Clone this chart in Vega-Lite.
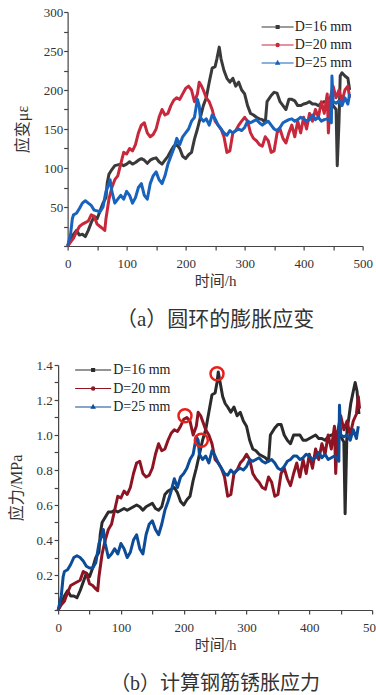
{
  "$schema": "https://vega.github.io/schema/vega-lite/v6.json",
  "background": "white",
  "padding": {"left": 8, "top": 6, "right": 0, "bottom": 0},
  "center": true,
  "spacing": 29,
  "config": {
    "view": {"stroke": null},
    "axis": {
      "domainColor": "#444", "domainWidth": 1.2, "tickColor": "#444", "tickWidth": 1.2, "tickSize": 4,
      "grid": false, "labelFont": "Times New Roman, Liberation Serif, serif", "labelFontSize": 13, "labelColor": "#333",
      "labelOverlap": false, "labelFlush": false,
      "titleFont": "Times New Roman, Liberation Serif, Noto Sans CJK SC, serif", "titleFontSize": 16, "titleFontWeight": "normal", "titleColor": "#333"
    },
    "title": {"font": "Times New Roman, Liberation Serif, Noto Sans CJK SC, serif", "fontSize": 20, "fontWeight": "normal", "color": "#333"}
  },
  "resolve": {"scale": {"x": "independent", "y": "independent", "color": "independent"}, "legend": {"color": "independent"}},
  "datasets": {
    "a16": [{"t":0,"v":0},{"t":5,"v":8},{"t":10,"v":15},{"t":15,"v":20},{"t":20,"v":14},{"t":25,"v":15},{"t":30,"v":12},{"t":35,"v":20},{"t":40,"v":30},{"t":45,"v":38},{"t":50,"v":35},{"t":55,"v":45},{"t":60,"v":55},{"t":65,"v":62},{"t":67,"v":80},{"t":70,"v":92},{"t":75,"v":98},{"t":80,"v":103},{"t":85,"v":104},{"t":90,"v":105},{"t":95,"v":103},{"t":100,"v":105},{"t":105,"v":108},{"t":110,"v":105},{"t":115,"v":107},{"t":120,"v":110},{"t":125,"v":112},{"t":130,"v":110},{"t":135,"v":106},{"t":140,"v":110},{"t":145,"v":112},{"t":150,"v":113},{"t":155,"v":108},{"t":160,"v":105},{"t":165,"v":110},{"t":170,"v":115},{"t":175,"v":122},{"t":180,"v":128},{"t":185,"v":130},{"t":190,"v":125},{"t":195,"v":115},{"t":200,"v":112},{"t":205,"v":117},{"t":210,"v":120},{"t":215,"v":137},{"t":220,"v":150},{"t":225,"v":165},{"t":230,"v":180},{"t":235,"v":190},{"t":240,"v":210},{"t":245,"v":228},{"t":250,"v":230},{"t":253,"v":240},{"t":257,"v":255},{"t":260,"v":240},{"t":265,"v":225},{"t":270,"v":215},{"t":275,"v":210},{"t":280,"v":215},{"t":285,"v":205},{"t":290,"v":210},{"t":295,"v":200},{"t":300,"v":195},{"t":305,"v":180},{"t":310,"v":170},{"t":315,"v":168},{"t":320,"v":165},{"t":325,"v":163},{"t":330,"v":162},{"t":335,"v":158},{"t":338,"v":185},{"t":345,"v":193},{"t":350,"v":197},{"t":355,"v":196},{"t":360,"v":185},{"t":365,"v":180},{"t":370,"v":175},{"t":375,"v":188},{"t":380,"v":188},{"t":385,"v":186},{"t":390,"v":180},{"t":395,"v":180},{"t":400,"v":182},{"t":405,"v":183},{"t":410,"v":185},{"t":415,"v":182},{"t":420,"v":182},{"t":425,"v":180},{"t":430,"v":183},{"t":435,"v":185},{"t":440,"v":185},{"t":445,"v":188},{"t":450,"v":180},{"t":455,"v":175},{"t":457,"v":103},{"t":460,"v":160},{"t":462,"v":218},{"t":465,"v":222},{"t":470,"v":218},{"t":475,"v":215},{"t":478,"v":200}],
    "a20": [{"t":0,"v":0},{"t":5,"v":5},{"t":10,"v":10},{"t":15,"v":18},{"t":20,"v":25},{"t":25,"v":28},{"t":30,"v":30},{"t":35,"v":32},{"t":40,"v":40},{"t":45,"v":38},{"t":50,"v":28},{"t":55,"v":25},{"t":60,"v":22},{"t":63,"v":20},{"t":65,"v":35},{"t":70,"v":60},{"t":75,"v":75},{"t":80,"v":85},{"t":85,"v":90},{"t":90,"v":105},{"t":95,"v":120},{"t":100,"v":118},{"t":105,"v":125},{"t":110,"v":122},{"t":115,"v":130},{"t":120,"v":145},{"t":125,"v":155},{"t":130,"v":158},{"t":135,"v":145},{"t":140,"v":140},{"t":145,"v":143},{"t":150,"v":150},{"t":155,"v":165},{"t":160,"v":175},{"t":165,"v":168},{"t":170,"v":170},{"t":175,"v":180},{"t":180,"v":187},{"t":185,"v":190},{"t":190,"v":188},{"t":195,"v":195},{"t":200,"v":202},{"t":205,"v":205},{"t":210,"v":200},{"t":215,"v":185},{"t":220,"v":195},{"t":223,"v":210},{"t":227,"v":205},{"t":230,"v":200},{"t":235,"v":190},{"t":240,"v":185},{"t":245,"v":175},{"t":250,"v":160},{"t":255,"v":155},{"t":260,"v":150},{"t":265,"v":140},{"t":270,"v":120},{"t":275,"v":122},{"t":280,"v":145},{"t":285,"v":148},{"t":290,"v":155},{"t":295,"v":160},{"t":300,"v":165},{"t":305,"v":160},{"t":310,"v":145},{"t":315,"v":138},{"t":320,"v":135},{"t":325,"v":130},{"t":330,"v":128},{"t":335,"v":140},{"t":340,"v":135},{"t":345,"v":120},{"t":350,"v":122},{"t":355,"v":145},{"t":360,"v":150},{"t":365,"v":138},{"t":370,"v":132},{"t":375,"v":145},{"t":380,"v":155},{"t":385,"v":140},{"t":390,"v":160},{"t":395,"v":145},{"t":400,"v":165},{"t":405,"v":150},{"t":410,"v":170},{"t":415,"v":160},{"t":420,"v":175},{"t":425,"v":165},{"t":430,"v":185},{"t":435,"v":170},{"t":440,"v":195},{"t":442,"v":145},{"t":445,"v":190},{"t":450,"v":205},{"t":455,"v":190},{"t":460,"v":200},{"t":465,"v":185},{"t":470,"v":200},{"t":475,"v":205},{"t":478,"v":190}],
    "a25": [{"t":0,"v":0},{"t":5,"v":15},{"t":8,"v":35},{"t":10,"v":40},{"t":15,"v":42},{"t":20,"v":48},{"t":25,"v":55},{"t":30,"v":58},{"t":35,"v":55},{"t":40,"v":52},{"t":45,"v":46},{"t":50,"v":45},{"t":55,"v":44},{"t":60,"v":50},{"t":65,"v":70},{"t":70,"v":80},{"t":72,"v":85},{"t":75,"v":70},{"t":80,"v":55},{"t":85,"v":60},{"t":90,"v":65},{"t":95,"v":60},{"t":100,"v":70},{"t":105,"v":65},{"t":110,"v":55},{"t":115,"v":62},{"t":120,"v":75},{"t":125,"v":80},{"t":130,"v":65},{"t":135,"v":60},{"t":140,"v":80},{"t":145,"v":90},{"t":150,"v":95},{"t":155,"v":85},{"t":160,"v":80},{"t":165,"v":90},{"t":170,"v":105},{"t":175,"v":115},{"t":180,"v":125},{"t":185,"v":138},{"t":190,"v":130},{"t":195,"v":140},{"t":200,"v":145},{"t":205,"v":150},{"t":210,"v":160},{"t":215,"v":165},{"t":220,"v":188},{"t":223,"v":180},{"t":225,"v":165},{"t":230,"v":160},{"t":235,"v":163},{"t":240,"v":155},{"t":245,"v":168},{"t":250,"v":163},{"t":255,"v":155},{"t":260,"v":150},{"t":265,"v":145},{"t":270,"v":142},{"t":275,"v":148},{"t":280,"v":145},{"t":285,"v":148},{"t":290,"v":150},{"t":295,"v":148},{"t":300,"v":152},{"t":305,"v":160},{"t":310,"v":158},{"t":315,"v":160},{"t":320,"v":162},{"t":325,"v":158},{"t":330,"v":155},{"t":335,"v":158},{"t":340,"v":160},{"t":345,"v":155},{"t":350,"v":150},{"t":355,"v":148},{"t":360,"v":152},{"t":365,"v":158},{"t":370,"v":160},{"t":375,"v":162},{"t":380,"v":163},{"t":385,"v":160},{"t":390,"v":162},{"t":395,"v":165},{"t":400,"v":163},{"t":405,"v":160},{"t":410,"v":162},{"t":415,"v":168},{"t":420,"v":162},{"t":425,"v":165},{"t":430,"v":160},{"t":435,"v":162},{"t":440,"v":163},{"t":445,"v":160},{"t":447,"v":158},{"t":448,"v":218},{"t":450,"v":185},{"t":455,"v":183},{"t":460,"v":186},{"t":465,"v":180},{"t":470,"v":190},{"t":475,"v":182},{"t":478,"v":195}],
    "b16": [{"t":0,"v":0},{"t":5,"v":0.04},{"t":10,"v":0.08},{"t":15,"v":0.11},{"t":20,"v":0.08},{"t":25,"v":0.08},{"t":30,"v":0.07},{"t":35,"v":0.11},{"t":40,"v":0.16},{"t":45,"v":0.21},{"t":50,"v":0.19},{"t":55,"v":0.24},{"t":60,"v":0.3},{"t":65,"v":0.33},{"t":67,"v":0.43},{"t":70,"v":0.5},{"t":75,"v":0.53},{"t":80,"v":0.56},{"t":85,"v":0.56},{"t":90,"v":0.57},{"t":95,"v":0.56},{"t":100,"v":0.57},{"t":105,"v":0.58},{"t":110,"v":0.57},{"t":115,"v":0.58},{"t":120,"v":0.59},{"t":125,"v":0.6},{"t":130,"v":0.59},{"t":135,"v":0.57},{"t":140,"v":0.59},{"t":145,"v":0.6},{"t":150,"v":0.61},{"t":155,"v":0.58},{"t":160,"v":0.57},{"t":165,"v":0.59},{"t":170,"v":0.66},{"t":175,"v":0.68},{"t":180,"v":0.69},{"t":185,"v":0.7},{"t":190,"v":0.67},{"t":195,"v":0.62},{"t":200,"v":0.6},{"t":205,"v":0.63},{"t":210,"v":0.65},{"t":215,"v":0.74},{"t":220,"v":0.81},{"t":225,"v":0.89},{"t":230,"v":0.97},{"t":235,"v":1.03},{"t":240,"v":1.13},{"t":245,"v":1.23},{"t":250,"v":1.24},{"t":253,"v":1.3},{"t":255,"v":1.36},{"t":258,"v":1.3},{"t":262,"v":1.22},{"t":266,"v":1.18},{"t":270,"v":1.16},{"t":275,"v":1.13},{"t":280,"v":1.16},{"t":285,"v":1.11},{"t":290,"v":1.13},{"t":295,"v":1.08},{"t":300,"v":1.05},{"t":305,"v":0.97},{"t":310,"v":0.92},{"t":315,"v":0.91},{"t":320,"v":0.89},{"t":325,"v":0.88},{"t":330,"v":0.87},{"t":335,"v":0.85},{"t":338,"v":1.0},{"t":345,"v":1.04},{"t":350,"v":1.06},{"t":355,"v":1.06},{"t":360,"v":1.0},{"t":365,"v":0.97},{"t":370,"v":0.95},{"t":375,"v":1.0},{"t":380,"v":1.0},{"t":385,"v":1.0},{"t":390,"v":0.97},{"t":395,"v":0.97},{"t":400,"v":0.98},{"t":405,"v":0.99},{"t":410,"v":1.0},{"t":415,"v":0.98},{"t":420,"v":0.98},{"t":425,"v":0.97},{"t":430,"v":0.99},{"t":435,"v":1.0},{"t":440,"v":1.0},{"t":445,"v":1.02},{"t":450,"v":0.99},{"t":455,"v":0.96},{"t":457,"v":0.55},{"t":460,"v":1.03},{"t":463,"v":1.1},{"t":466,"v":1.18},{"t":470,"v":1.25},{"t":473,"v":1.3},{"t":476,"v":1.25},{"t":479,"v":1.12}],
    "b20": [{"t":0,"v":0},{"t":5,"v":0.03},{"t":10,"v":0.05},{"t":15,"v":0.1},{"t":20,"v":0.14},{"t":25,"v":0.15},{"t":30,"v":0.16},{"t":35,"v":0.17},{"t":40,"v":0.22},{"t":45,"v":0.21},{"t":50,"v":0.15},{"t":55,"v":0.14},{"t":60,"v":0.12},{"t":63,"v":0.11},{"t":65,"v":0.19},{"t":70,"v":0.32},{"t":75,"v":0.4},{"t":80,"v":0.46},{"t":85,"v":0.49},{"t":90,"v":0.57},{"t":95,"v":0.65},{"t":100,"v":0.64},{"t":105,"v":0.68},{"t":110,"v":0.66},{"t":115,"v":0.7},{"t":120,"v":0.78},{"t":125,"v":0.84},{"t":130,"v":0.85},{"t":135,"v":0.78},{"t":140,"v":0.76},{"t":145,"v":0.77},{"t":150,"v":0.81},{"t":155,"v":0.89},{"t":160,"v":0.95},{"t":165,"v":0.91},{"t":170,"v":0.92},{"t":175,"v":0.97},{"t":180,"v":1.01},{"t":185,"v":1.03},{"t":190,"v":1.02},{"t":195,"v":1.05},{"t":200,"v":1.09},{"t":205,"v":1.1},{"t":210,"v":1.08},{"t":215,"v":1.0},{"t":220,"v":1.05},{"t":223,"v":1.13},{"t":227,"v":1.11},{"t":230,"v":1.08},{"t":235,"v":1.03},{"t":240,"v":1.0},{"t":245,"v":0.95},{"t":250,"v":0.86},{"t":255,"v":0.84},{"t":260,"v":0.81},{"t":265,"v":0.76},{"t":270,"v":0.65},{"t":275,"v":0.66},{"t":280,"v":0.78},{"t":285,"v":0.8},{"t":290,"v":0.84},{"t":295,"v":0.86},{"t":300,"v":0.89},{"t":305,"v":0.86},{"t":310,"v":0.78},{"t":315,"v":0.75},{"t":320,"v":0.73},{"t":325,"v":0.7},{"t":330,"v":0.69},{"t":335,"v":0.76},{"t":340,"v":0.73},{"t":345,"v":0.65},{"t":350,"v":0.66},{"t":355,"v":0.78},{"t":360,"v":0.81},{"t":365,"v":0.75},{"t":370,"v":0.71},{"t":375,"v":0.78},{"t":380,"v":0.84},{"t":385,"v":0.76},{"t":390,"v":0.86},{"t":395,"v":0.78},{"t":400,"v":0.89},{"t":405,"v":0.81},{"t":410,"v":0.92},{"t":415,"v":0.86},{"t":420,"v":0.95},{"t":425,"v":0.89},{"t":430,"v":1.0},{"t":435,"v":0.92},{"t":440,"v":1.05},{"t":442,"v":0.78},{"t":445,"v":1.02},{"t":450,"v":1.11},{"t":455,"v":1.03},{"t":460,"v":1.08},{"t":465,"v":1.0},{"t":470,"v":1.08},{"t":475,"v":1.12},{"t":478,"v":1.22},{"t":480,"v":1.15}],
    "b25": [{"t":0,"v":0},{"t":5,"v":0.08},{"t":8,"v":0.19},{"t":10,"v":0.22},{"t":15,"v":0.23},{"t":20,"v":0.26},{"t":25,"v":0.3},{"t":30,"v":0.31},{"t":35,"v":0.3},{"t":40,"v":0.28},{"t":45,"v":0.25},{"t":50,"v":0.24},{"t":55,"v":0.24},{"t":60,"v":0.27},{"t":65,"v":0.38},{"t":70,"v":0.43},{"t":72,"v":0.46},{"t":75,"v":0.38},{"t":80,"v":0.3},{"t":85,"v":0.32},{"t":90,"v":0.35},{"t":95,"v":0.32},{"t":100,"v":0.38},{"t":105,"v":0.35},{"t":110,"v":0.3},{"t":115,"v":0.33},{"t":120,"v":0.4},{"t":125,"v":0.43},{"t":130,"v":0.35},{"t":135,"v":0.32},{"t":140,"v":0.43},{"t":145,"v":0.49},{"t":150,"v":0.51},{"t":155,"v":0.46},{"t":160,"v":0.43},{"t":165,"v":0.49},{"t":170,"v":0.57},{"t":175,"v":0.62},{"t":180,"v":0.68},{"t":185,"v":0.75},{"t":190,"v":0.7},{"t":195,"v":0.76},{"t":200,"v":0.78},{"t":205,"v":0.81},{"t":210,"v":0.86},{"t":215,"v":0.89},{"t":220,"v":0.99},{"t":223,"v":0.97},{"t":225,"v":0.89},{"t":230,"v":0.86},{"t":235,"v":0.88},{"t":240,"v":0.84},{"t":245,"v":0.91},{"t":250,"v":0.88},{"t":255,"v":0.84},{"t":260,"v":0.81},{"t":265,"v":0.78},{"t":270,"v":0.77},{"t":275,"v":0.8},{"t":280,"v":0.78},{"t":285,"v":0.8},{"t":290,"v":0.81},{"t":295,"v":0.8},{"t":300,"v":0.82},{"t":305,"v":0.86},{"t":310,"v":0.85},{"t":315,"v":0.86},{"t":320,"v":0.87},{"t":325,"v":0.85},{"t":330,"v":0.84},{"t":335,"v":0.85},{"t":340,"v":0.86},{"t":345,"v":0.84},{"t":350,"v":0.81},{"t":355,"v":0.8},{"t":360,"v":0.82},{"t":365,"v":0.85},{"t":370,"v":0.86},{"t":375,"v":0.88},{"t":380,"v":0.88},{"t":385,"v":0.86},{"t":390,"v":0.87},{"t":395,"v":0.89},{"t":400,"v":0.88},{"t":405,"v":0.86},{"t":410,"v":0.87},{"t":415,"v":0.9},{"t":420,"v":0.87},{"t":425,"v":0.89},{"t":430,"v":0.86},{"t":435,"v":0.87},{"t":440,"v":0.88},{"t":445,"v":0.86},{"t":447,"v":0.85},{"t":448,"v":1.17},{"t":450,"v":1.0},{"t":455,"v":0.99},{"t":460,"v":1.0},{"t":465,"v":0.97},{"t":470,"v":1.03},{"t":475,"v":0.98},{"t":478,"v":1.05}],
    "circ": [{"t":253,"v":1.35},{"t":202,"v":1.11},{"t":228,"v":0.97}]
  },
  "vconcat": [
    {
      "width": 295, "height": 234,
      "title": {"text": "（a）圆环的膨胀应变", "orient": "bottom", "anchor": "middle", "offset": 21, "fontSize": 21},
      "encoding": {
        "x": {"field": "t", "type": "quantitative", "scale": {"domain": [0, 500], "nice": false},
          "axis": {"title": "时间/h", "values": [0,50,100,150,200,250,300,350,400,450,500], "labelExpr": "datum.value % 100 === 0 ? datum.label : ''", "labelPadding": 7, "titlePadding": 3, "titleFontSize": 15}},
        "y": {"field": "v", "type": "quantitative", "scale": {"domain": [0, 300], "nice": false},
          "axis": {"title": "应变με", "values": [0,25,50,75,100,125,150,175,200,225,250,275,300], "labelExpr": "datum.value % 50 === 0 && datum.value > 0 ? datum.label : ''", "labelPadding": 1, "titlePadding": 13}}
      },
      "layer": [
        {"data": {"name": "a16"}, "mark": {"type": "line", "strokeWidth": 3, "strokeJoin": "round"},
          "encoding": {"color": {"datum": "D=16 mm", "type": "nominal",
            "scale": {"domain": ["D=16 mm", "D=20 mm", "D=25 mm"], "range": ["#3a3a3a", "#c8283c", "#1763bd"]},
            "legend": {"orient": "none", "legendX": 201, "legendY": 6, "title": null, "padding": 0,
              "symbolSize": 256, "symbolStrokeWidth": 1.2, "symbolType": "M-2,0H2",
              "labelFont": "Times New Roman, Liberation Serif, serif", "labelFontSize": 14, "labelColor": "#222", "labelOffset": 8, "rowPadding": 2,
              "encode": {"symbols": {"update": {
                "shape": {"signal": "datum.value === 'D=16 mm' ? 'M-2,0H2M-0.18,-0.18H0.18V0.18H-0.18Z' : datum.value === 'D=20 mm' ? 'M-2,0H2M-0.2,0A0.2,0.2 0 1,0 0.2,0A0.2,0.2 0 1,0 -0.2,0Z' : 'M-2,0H2M0,-0.24L0.22,0.15H-0.22Z'"},
                "fill": {"signal": "datum.value === 'D=16 mm' ? '#3a3a3a' : datum.value === 'D=20 mm' ? '#d03050' : '#1e88e0'"},
                "stroke": {"signal": "datum.value === 'D=16 mm' ? '#3a3a3a' : datum.value === 'D=20 mm' ? '#e05070' : '#2a90e0'"}
              }}}}}}},
        {"data": {"name": "a20"}, "mark": {"type": "line", "strokeWidth": 3, "strokeJoin": "round"},
          "encoding": {"color": {"datum": "D=20 mm", "type": "nominal"}}},
        {"data": {"name": "a25"}, "mark": {"type": "line", "strokeWidth": 3, "strokeJoin": "round"},
          "encoding": {"color": {"datum": "D=25 mm", "type": "nominal"}}}
      ]
    },
    {
      "width": 314, "height": 245,
      "title": {"text": "（b）计算钢筋锈胀应力", "orient": "bottom", "anchor": "middle", "offset": 22, "fontSize": 20},
      "encoding": {
        "x": {"field": "t", "type": "quantitative", "scale": {"domain": [0, 500], "nice": false},
          "axis": {"title": "时间/h", "values": [0,50,100,150,200,250,300,350,400,450,500], "labelExpr": "datum.value % 100 === 0 ? datum.label : ''", "labelPadding": 7, "titlePadding": 3, "titleFontSize": 15}},
        "y": {"field": "v", "type": "quantitative", "scale": {"domain": [0, 1.4], "nice": false},
          "axis": {"title": "应力/MPa", "values": [0,0.1,0.2,0.3,0.4,0.5,0.6,0.7,0.8,0.9,1.0,1.1,1.2,1.3,1.4], "labelExpr": "round(datum.value*10) % 2 === 0 && datum.value > 0.05 ? format(datum.value, '.1f') : ''", "labelPadding": 2, "titlePadding": 11}}
      },
      "layer": [
        {"data": {"name": "b16"}, "mark": {"type": "line", "strokeWidth": 3, "strokeJoin": "round"},
          "encoding": {"color": {"datum": "D=16 mm", "type": "nominal",
            "scale": {"domain": ["D=16 mm", "D=20 mm", "D=25 mm"], "range": ["#2b2b2b", "#8e1424", "#0c4c98"]},
            "legend": {"orient": "none", "legendX": 26, "legendY": -4, "title": null, "padding": 0,
              "symbolSize": 256, "symbolStrokeWidth": 1.2, "symbolType": "M-2.25,0H2.25",
              "labelFont": "Times New Roman, Liberation Serif, serif", "labelFontSize": 14, "labelColor": "#222", "labelOffset": 11, "rowPadding": 2.5,
              "encode": {"symbols": {"update": {
                "shape": {"signal": "datum.value === 'D=16 mm' ? 'M-2.25,0H2.25M-0.18,-0.18H0.18V0.18H-0.18Z' : datum.value === 'D=20 mm' ? 'M-2.25,0H2.25M-0.2,0A0.2,0.2 0 1,0 0.2,0A0.2,0.2 0 1,0 -0.2,0Z' : 'M-2.25,0H2.25M0,-0.24L0.22,0.15H-0.22Z'"},
                "fill": {"signal": "datum.value === 'D=16 mm' ? '#2b2b2b' : datum.value === 'D=20 mm' ? '#a01830' : '#1860b0'"},
                "stroke": {"signal": "datum.value === 'D=16 mm' ? '#333333' : datum.value === 'D=20 mm' ? '#c04060' : '#3a8ad8'"}
              }}}}}}},
        {"data": {"name": "b20"}, "mark": {"type": "line", "strokeWidth": 3, "strokeJoin": "round"},
          "encoding": {"color": {"datum": "D=20 mm", "type": "nominal"}}},
        {"data": {"name": "b25"}, "mark": {"type": "line", "strokeWidth": 3, "strokeJoin": "round"},
          "encoding": {"color": {"datum": "D=25 mm", "type": "nominal"}}},
        {"data": {"name": "circ"}, "mark": {"type": "point", "shape": "circle", "size": 170, "filled": false, "stroke": "#e8201c", "strokeWidth": 2.5, "opacity": 1}}
      ]
    }
  ]
}
